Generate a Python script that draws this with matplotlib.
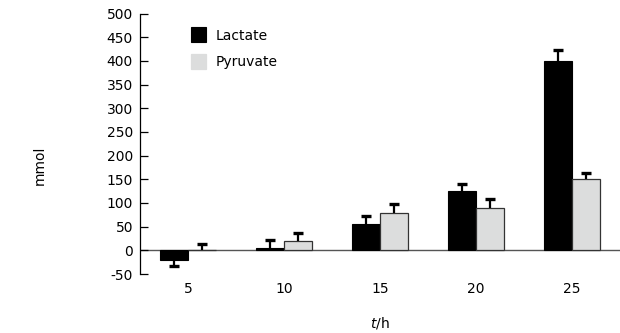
import numpy as np
import matplotlib
matplotlib.use("Agg")
import matplotlib.pyplot as plt

hours = ["5", "10", "15", "20", "25"]
lactate = [-21, 5, 56, 125, 399]
lactate_err = [13, 16, 17, 15, 23]
pyruvate = [0, 19, 78, 89, 150]
pyruvate_err = [13, 18, 20, 19, 14]

plt.rcParams['font.family'] = ['DejaVu Sans']
plt.rcParams['font.size'] = 10
plt.rcParams['axes.unicode_minus'] = False

fig = plt.figure(figsize=(6.2, 3.33), dpi=100)
ax = fig.add_axes([140/620, 59/333, 480/620, 260.5/333])

x = np.arange(len(hours))
w = 0.29


def one_sided_err(xpos, vals, errs):
    # whisker goes away from zero, with a cap only at its end
    vals = np.asarray(vals, float)
    errs = np.asarray(errs, float)
    ends = np.where(vals < 0, vals - errs, vals + errs)
    ax.vlines(xpos, vals, ends, color="black", linewidth=1.6, zorder=3)
    ax.plot(xpos, ends, ls="none", marker="_", ms=7, mew=2.4, color="black", zorder=3)


ax.bar(x - w/2, lactate, w, color="black", edgecolor="black", linewidth=0.8,
       label="Lactate", zorder=2)
ax.bar(x + w/2, pyruvate, w, color="#dcdddd", edgecolor="#333333", linewidth=0.9,
       label="Pyruvate", zorder=2)
one_sided_err(x - w/2, lactate, lactate_err)
one_sided_err(x + w/2, pyruvate, pyruvate_err)

ax.axhline(0, color="#555555", linewidth=1.0, zorder=1)

ax.set_xlim(-0.5, len(hours) - 0.5)
ax.set_ylim(-50, 500)
ax.set_yticks(range(-50, 501, 50))
ax.set_xticks(x)
ax.set_xticklabels(hours)

for s in ["top", "right", "bottom"]:
    ax.spines[s].set_visible(False)
ax.spines["left"].set_linewidth(0.9)
ax.tick_params(axis="y", direction="in", length=6, width=0.9, pad=5, labelsize=10)
ax.tick_params(axis="x", length=0, pad=6, labelsize=10)

fig.text(380/620, 1 - 323/333, r"$t$/h", ha="center", va="center", fontsize=10)
fig.text(40/620, 1 - 165/333, "mmol", ha="center", va="center", rotation=90, fontsize=10)

leg = ax.legend(loc="upper left", bbox_to_anchor=(0.08, 0.995), frameon=False,
                handlelength=1.1, handleheight=1.3, handletextpad=0.7, labelspacing=0.8,
                fontsize=10)
leg.legend_handles[1].set_edgecolor("#dcdddd")

fig.savefig("out.png", dpi=100)
